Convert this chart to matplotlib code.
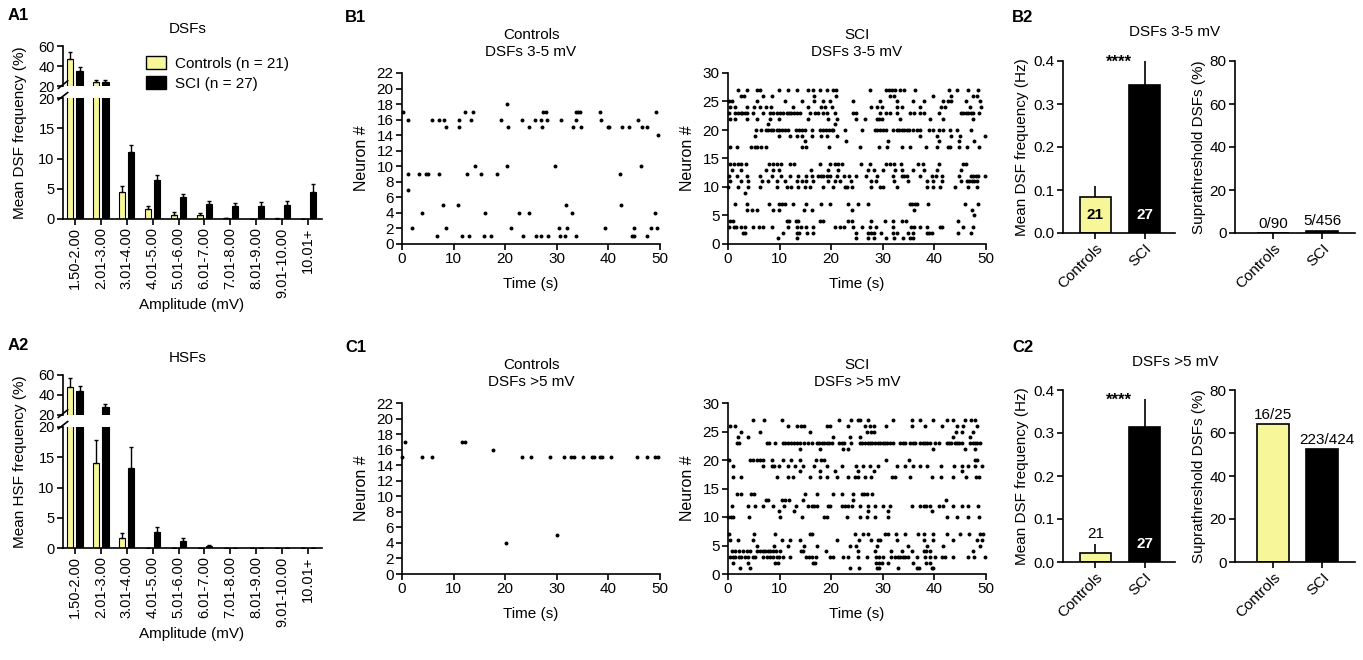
import matplotlib
matplotlib.use('Agg')
import matplotlib.pyplot as plt
from matplotlib.patches import Patch
import numpy as np

plt.rcParams['font.family'] = ['Liberation Sans', 'DejaVu Sans']
plt.rcParams['font.size'] = 10.5
plt.rcParams['axes.linewidth'] = 1.2
plt.rcParams['xtick.major.width'] = 1.2
plt.rcParams['ytick.major.width'] = 1.2
plt.rcParams['xtick.major.size'] = 4
plt.rcParams['ytick.major.size'] = 4

YELLOW = '#f7f799'

# ---------------- data ----------------
amp_bins = ['1.50-2.00', '2.01-3.00', '3.01-4.00', '4.01-5.00', '5.01-6.00',
            '6.01-7.00', '7.01-8.00', '8.01-9.00', '9.01-10.00', '10.01+']

dsf_ctrl = [47.5, 24.5, 4.5, 1.7, 0.7, 0.6, 0.1, 0.0, 0.05, 0.0]
dsf_ctrl_err = [7.0, 2.0, 0.9, 0.4, 0.4, 0.4, 0.1, 0.0, 0.05, 0.0]
dsf_sci = [35.0, 24.0, 11.1, 6.5, 3.6, 2.5, 2.1, 2.2, 2.3, 4.5]
dsf_sci_err = [4.0, 2.0, 1.1, 0.8, 0.6, 0.4, 0.6, 0.6, 0.6, 1.3]

hsf_ctrl = [48.0, 14.0, 1.6, 0.0, 0.0, 0.05, 0.0, 0.0, 0.0, 0.0]
hsf_ctrl_err = [9.0, 3.8, 0.8, 0.0, 0.0, 0.0, 0.0, 0.0, 0.0, 0.0]
hsf_sci = [44.5, 28.5, 13.3, 2.6, 1.2, 0.3, 0.05, 0.05, 0.0, 0.0]
hsf_sci_err = [4.5, 2.5, 3.4, 0.8, 0.4, 0.2, 0.0, 0.0, 0.0, 0.0]

groups = ['Controls', 'SCI']
n_cells = [21, 27]

freq_35 = [0.084, 0.344]
freq_35_err = [0.025, 0.056]
supra_35 = [0.0, 1.1]
supra_35_lbl = ['0/90', '5/456']

freq_5 = [0.022, 0.313]
freq_5_err = [0.020, 0.066]
supra_5 = [64.0, 52.6]
supra_5_lbl = ['16/25', '223/424']

# raster events: neuron number -> event times (s)
ctrl_35 = {
    18: [20.4],
    17: [0.1, 12.2, 13.7, 27.3, 27.9, 33.8, 34.1, 34.4, 38.4, 49.3],
    16: [1.1, 5.8, 7.2, 8.1, 11.0, 13.3, 19.2, 23.3, 25.8, 27.0, 28.1, 30.8,
         33.8, 38.6, 45.8],
    15: [8.6, 11.0, 20.6, 24.6, 27.2, 33.1, 34.7, 39.9, 40.2, 42.6, 43.9,
         46.6, 47.4],
    14: [49.6],
    10: [14.2, 20.4, 29.7, 46.3],
    9: [1.1, 3.3, 4.6, 5.1, 7.2, 12.6, 15.3, 18.5, 42.3],
    7: [1.2],
    5: [8.0, 10.8, 31.7, 42.4],
    4: [3.9, 16.1, 22.7, 24.6, 32.9, 49.1],
    2: [2.0, 8.6, 21.1, 30.4, 32.0, 39.4, 45.0, 48.2, 49.4],
    1: [6.7, 11.6, 12.9, 15.8, 17.2, 23.4, 26.0, 27.0, 28.3, 30.7, 31.5,
        33.7, 44.6, 44.9, 47.4],
}

sci_35 = {
    27: [2.0, 3.7, 5.6, 6.2, 9.8, 11.7, 13.3, 15.6, 16.4, 17.8, 19.1, 20.4,
         20.9, 27.5, 30.7, 31.2, 31.7, 32.4, 33.3, 34.2, 36.2, 42.9, 44.4,
         46.6, 48.5],
    26: [2.5, 3.1, 6.8, 8.6, 16.7, 20.9, 31.4, 32.2, 39.8, 43.2, 47.4, 48.2],
    25: [0.1, 0.8, 5.7, 11.0, 14.3, 16.7, 18.5, 19.8, 24.2, 29.5, 32.7, 35.9,
         38.0, 41.6, 42.7, 43.3, 46.1, 48.8],
    24: [0.4, 1.4, 3.6, 5.0, 6.2, 7.3, 8.3, 12.5, 15.6, 18.0, 18.8, 20.1,
         27.8, 28.8, 29.9, 32.7, 33.7, 37.2, 41.3, 42.1, 46.9, 49.0],
    23: [0.1, 1.4, 2.0, 2.5, 2.8, 3.3, 3.7, 4.9, 6.8, 8.1, 8.8, 9.4, 10.1,
         10.7, 11.4, 11.8, 12.3, 12.8, 13.3, 14.0, 15.9, 16.9, 17.5, 18.5,
         19.1, 20.7, 24.3, 24.9, 29.5, 30.7, 31.4, 32.7, 35.3, 36.1, 37.2,
         37.9, 40.8, 45.1, 45.6, 46.1, 46.6, 47.0, 47.5, 48.7],
    22: [0.4, 1.4, 3.6, 5.6, 8.1, 9.8, 15.6, 19.3, 21.1, 24.9, 26.6, 28.8,
         29.3, 29.8, 33.3, 39.1, 41.7, 47.5],
    21: [7.7, 20.7],
    20: [5.4, 6.3, 7.4, 7.8, 8.3, 8.8, 9.4, 9.9, 10.4, 11.0, 11.6, 13.2,
         13.8, 14.3, 14.9, 16.2, 17.8, 18.5, 19.0, 19.6, 20.1, 20.4, 22.7,
         25.9, 28.5, 28.9, 29.5, 30.1, 30.7, 32.0, 32.7, 33.2, 33.7, 34.1,
         34.6, 35.1, 35.8, 36.6, 37.2, 39.0, 39.8, 40.8, 41.7, 43.0, 44.4,
         47.0],
    19: [5.2, 9.9, 12.0, 13.3, 14.4, 16.2, 18.0, 19.1, 21.1, 37.2, 40.6,
         43.3, 45.0, 49.8],
    18: [14.9, 22.9, 31.1, 40.8, 44.8, 47.7],
    17: [0.3, 1.7, 4.5, 5.2, 5.7, 6.4, 7.4, 14.3, 15.2, 19.6, 25.6, 29.3,
         30.9, 33.7, 35.3, 38.3, 40.6, 42.6, 43.0, 44.8, 46.4, 48.6],
    14: [0.4, 1.2, 2.0, 2.6, 3.5, 8.0, 8.7, 9.4, 10.3, 12.0, 12.7, 17.8,
         19.8, 20.7, 21.4, 22.0, 25.8, 27.5, 30.7, 31.4, 32.2, 33.5, 36.9,
         37.7, 40.8, 45.5, 46.1],
    13: [0.7, 2.5, 7.4, 8.8, 9.9, 16.1, 19.3, 21.4, 27.2, 28.2, 30.1, 32.4,
         33.7, 35.9, 38.0, 40.6, 45.1],
    12: [0.1, 1.7, 3.6, 6.2, 8.5, 10.3, 12.0, 13.6, 15.2, 16.3, 17.5, 18.0,
         18.5, 19.1, 19.8, 21.1, 22.4, 23.5, 24.9, 26.7, 28.9, 32.0, 33.7,
         34.2, 34.6, 37.2, 39.5, 40.4, 41.4, 44.8, 47.0, 47.5, 48.1, 48.5,
         49.8],
    11: [0.3, 2.5, 3.9, 6.5, 7.8, 9.4, 11.0, 13.3, 14.3, 15.2, 16.5, 19.4,
         20.7, 21.7, 23.8, 27.8, 28.7, 32.2, 34.8, 38.5, 39.7, 41.4, 45.1,
         46.3, 46.8, 47.2, 47.7, 48.2],
    10: [0.0, 2.0, 3.9, 6.2, 9.4, 11.4, 12.3, 13.5, 14.9, 15.9, 18.5, 20.4,
         22.7, 23.0, 24.0, 27.8, 29.5, 30.1, 32.7, 38.5, 39.8, 41.1, 44.0,
         46.6, 48.2],
    9: [3.3],
    7: [1.4, 3.6, 7.9, 9.9, 10.4, 11.0, 12.5, 15.1, 18.0, 19.8, 23.3, 25.1,
        27.1, 35.3, 35.7, 36.2, 36.7, 38.8, 45.9, 48.5],
    6: [3.7, 4.6, 5.7, 8.8, 9.9, 14.8, 16.2, 24.0, 36.1, 47.2],
    5: [47.7],
    4: [0.4, 1.0, 11.4, 11.9, 13.2, 13.6, 17.8, 18.5, 23.3, 24.0, 27.8, 30.4,
        32.0, 33.7, 34.5, 44.6],
    3: [0.1, 1.2, 1.6, 2.6, 3.3, 4.8, 6.1, 6.7, 8.5, 11.6, 13.4, 14.1, 15.2,
        16.5, 20.7, 21.7, 22.5, 24.3, 26.0, 27.6, 28.7, 31.9, 35.4, 36.0,
        37.2, 38.5, 41.0, 41.5, 45.6, 47.5],
    2: [3.0, 3.3, 10.7, 13.3, 13.8, 15.4, 16.5, 24.9, 27.2, 27.7, 28.2, 29.6,
        32.0, 32.7, 34.8, 35.9, 38.5, 39.0, 39.5, 44.6, 47.0],
    1: [9.6, 13.4, 24.8, 27.2, 28.2, 30.6, 32.2, 34.0, 35.3, 35.9],
}

ctrl_5 = {
    17: [0.5, 11.6, 12.3],
    16: [17.7],
    15: [0.0, 3.9, 5.8, 23.3, 25.0, 28.6, 31.4, 32.8, 33.4, 35.0, 36.8, 37.3,
         38.3, 38.7, 40.5, 45.6, 47.5, 49.0, 49.6],
    5: [30.0],
    4: [20.2],
}

sci_5 = {
    27: [4.9, 7.0, 10.5, 21.5, 23.8, 25.1, 25.6, 27.2, 32.0, 35.6, 37.2, 39.8,
         42.4, 43.7, 45.9, 47.0, 47.9],
    26: [0.3, 1.4, 11.7, 13.4, 14.1, 14.7, 19.1, 19.8, 23.3, 26.6, 27.6, 28.3,
         30.6, 35.7, 38.2, 41.4, 44.3, 45.6, 48.2],
    25: [2.6, 6.2, 15.8, 26.9, 27.8, 28.3, 44.1, 45.3, 47.4],
    24: [2.0, 3.9, 20.4, 23.6, 25.6, 43.7, 46.9],
    23: [1.7, 2.2, 7.5, 8.0, 9.1, 10.6, 11.0, 11.6, 12.2, 12.7, 13.3, 14.0,
         14.7, 15.6, 16.2, 17.2, 17.6, 18.2, 18.6, 19.1, 19.6, 20.1, 21.5,
         22.0, 22.5, 23.8, 25.6, 26.0, 26.6, 27.1, 27.5, 28.0, 28.5, 29.0,
         29.5, 30.0, 30.4, 30.9, 31.4, 31.9, 33.3, 33.9, 34.3, 35.3, 35.8,
         36.2, 37.2, 37.7, 38.2, 38.6, 39.1, 40.1, 40.8, 42.4, 42.9, 43.3,
         43.9, 44.3, 44.8, 45.3, 46.9, 47.4, 47.9, 48.3, 48.8],
    22: [14.0, 17.8, 22.2, 23.3, 39.7, 45.9, 47.9],
    20: [0.1, 4.3, 4.8, 5.7, 6.2, 6.7, 8.5, 10.7, 12.3, 14.0, 17.0, 18.0,
         18.7, 30.7, 35.1, 47.9, 48.3],
    19: [1.0, 6.8, 8.5, 8.9, 9.9, 11.7, 13.0, 14.6, 16.7, 19.1, 22.0, 24.9,
         26.2, 27.6, 29.1, 32.7, 34.3, 35.8, 37.2, 38.6, 41.3, 43.8, 45.3,
         46.6, 47.9, 49.2],
    18: [14.0, 17.8, 20.7, 25.1, 28.3, 45.4],
    17: [1.0, 2.5, 9.4, 11.6, 12.5, 15.9, 17.8, 19.1, 21.1, 23.2, 24.6, 25.1,
         26.6, 27.8, 31.7, 32.4, 35.3, 39.6, 41.3, 43.7, 46.1, 48.1, 48.7],
    14: [1.7, 2.5, 4.5, 5.1, 14.9, 17.2, 20.4, 22.0, 24.3, 25.9, 26.4, 26.9,
         28.0],
    13: [7.4, 7.8, 10.4, 11.0, 11.8, 14.6, 24.3, 42.2],
    12: [0.7, 3.9, 5.2, 6.8, 8.8, 10.9, 13.2, 15.6, 16.2, 16.7, 17.2, 19.3,
         19.8, 22.0, 22.7, 23.3, 24.0, 25.6, 27.2, 28.5, 30.1, 31.3, 35.6,
         37.2, 37.9, 38.4, 39.1, 40.8, 41.7, 43.7, 45.3, 46.6, 48.5],
    11: [9.9, 12.7, 27.2, 31.1, 39.6],
    10: [0.0, 0.5, 0.9, 4.1, 10.1, 14.3, 18.6, 19.1, 23.0, 25.5, 26.9, 28.5,
         31.1, 42.4, 44.4, 46.6, 48.7],
    7: [0.1, 5.1, 9.1, 15.8, 16.3, 24.6, 26.1, 27.2, 30.4, 31.1, 32.5, 34.3,
        36.9, 38.0, 39.8, 42.4, 45.0, 46.8, 48.8, 49.4],
    6: [0.3, 2.0, 4.9, 10.4, 12.0, 14.0, 21.1, 25.3, 27.8, 29.1, 29.5, 32.7,
        38.0, 39.7, 43.7, 48.3, 49.2],
    5: [5.7, 9.0, 11.7, 14.7, 17.3, 23.6, 24.9, 28.8, 34.9, 38.5, 41.6, 48.8],
    4: [0.7, 1.4, 2.1, 3.0, 3.6, 4.3, 5.7, 6.2, 6.7, 7.2, 7.7, 8.1, 8.7, 9.3,
        10.1, 14.1, 14.6, 18.9, 25.1, 28.5, 31.5, 33.7, 35.6, 37.9, 38.4,
        39.1, 47.5],
    3: [0.4, 0.9, 1.4, 2.1, 2.6, 3.3, 3.9, 4.8, 5.2, 6.8, 7.5, 8.1, 8.8, 9.4,
        9.9, 10.7, 12.1, 15.2, 15.7, 16.2, 17.1, 19.8, 20.4, 22.2, 23.3, 25.1,
        26.9, 28.7, 29.3, 30.1, 31.6, 32.4, 32.9, 33.3, 33.9, 34.3, 34.8,
        36.6, 38.2, 39.1, 40.1, 41.4, 42.1, 43.7, 46.6, 47.7, 49.8],
    2: [1.0, 3.9, 9.1, 9.6, 16.5, 16.9, 28.7, 29.3, 29.8, 31.1, 35.8, 38.3,
        39.1],
    1: [2.3, 4.3, 23.6, 25.3, 28.8, 29.3, 33.0, 36.6, 37.0, 39.5, 39.8],
}

# ---------------- figure ----------------
W, H = 1363, 660
fig = plt.figure(figsize=(W / 100, H / 100), dpi=100)


def box(x0, y0, x1, y1):
    return [x0 / W, 1 - y1 / H, (x1 - x0) / W, (y1 - y0) / H]


def ftext(x, y, s, **kw):
    kw.setdefault('ha', 'center')
    kw.setdefault('va', 'center')
    fig.text(x / W, 1 - y / H, s, **kw)


def clean(ax):
    ax.spines['top'].set_visible(False)
    ax.spines['right'].set_visible(False)
    ax.tick_params(direction='out', labelsize=10.5, pad=2)


def amp_hist(top, ctrl, ctrl_err, sci, sci_err, ylabel, title, tag):
    x = np.arange(len(amp_bins))
    ax_hi = fig.add_axes(box(63, top, 322, top + 40))
    ax_lo = fig.add_axes(box(63, top + 52, 322, top + 173))
    for ax in (ax_hi, ax_lo):
        ax.bar(x - 0.18, ctrl, width=0.24, color=YELLOW, edgecolor='black',
               linewidth=0.8, yerr=[np.zeros(len(x)), ctrl_err],
               error_kw=dict(lw=1, capsize=1.5, capthick=1, ecolor='black'))
        ax.bar(x + 0.18, sci, width=0.24, color='black', edgecolor='black',
               linewidth=0.8, yerr=[np.zeros(len(x)), sci_err],
               error_kw=dict(lw=1, capsize=1.5, capthick=1, ecolor='black'))
        ax.set_xlim(-0.46, 9.54)
        clean(ax)
    ax_hi.set_ylim(20, 60)
    ax_hi.set_yticks([20, 40, 60])
    ax_hi.spines['bottom'].set_visible(False)
    ax_hi.set_xticks([])
    ax_lo.set_ylim(0, 20)
    ax_lo.set_yticks([0, 5, 10, 15, 20])
    ax_lo.set_xticks(x)
    ax_lo.set_xticklabels(amp_bins, rotation=90)
    # break marks on the y axis
    kw = dict(color='black', lw=1.2, clip_on=False)
    ax_lo.plot([-0.018, 0.018], [0.985, 1.045], transform=ax_lo.transAxes, **kw)
    ax_hi.plot([-0.018, 0.018], [-0.06, 0.13], transform=ax_hi.transAxes, **kw)
    ftext(20, top + 87, ylabel, rotation=90, fontsize=11)
    ftext(192, top + 259, 'Amplitude (mV)', fontsize=11)
    ftext(188, top - 17, title, fontsize=11)
    ftext(8, top - 30, tag, ha='left', fontsize=12, fontweight='bold')
    return ax_hi


def raster(x0, top, rows, ymax, yticks, group, title):
    ax = fig.add_axes(box(x0, top, x0 + 258, top + 171))
    for n, ts in rows.items():
        ax.scatter(ts, [n] * len(ts), s=8, marker='o', color='black',
                   linewidths=0, clip_on=False)
    ax.set_xlim(0, 50)
    ax.set_ylim(0, ymax)
    ax.set_xticks(range(0, 51, 10))
    ax.set_yticks(yticks)
    clean(ax)
    ax.tick_params(labelsize=11)
    ftext(x0 + 129, top - 38, group, fontsize=11)
    ftext(x0 + 129, top - 21, title, fontsize=11)
    ftext(x0 + 129, top + 211, 'Time (s)', fontsize=11)
    ftext(x0 - 40, top + 85, 'Neuron #', rotation=90, fontsize=11.5)
    return ax


def freq_bars(top, vals, errs, inside_ctrl):
    ax = fig.add_axes(box(1063, top, 1175, top + 172))
    xs = np.arange(2)
    ax.bar(xs, vals, width=0.63, color=[YELLOW, 'black'], edgecolor='black',
           linewidth=1.2, yerr=[[0, 0], errs],
           error_kw=dict(lw=1.2, capsize=0, ecolor='black'))
    ax.set_xlim(-0.66, 1.62)
    ax.set_ylim(0, 0.4)
    ax.set_yticks([0.0, 0.1, 0.2, 0.3, 0.4])
    ax.set_yticklabels(['0.0', '0.1', '0.2', '0.3', '0.4'])
    ax.set_xticks(xs)
    ax.set_xticklabels(groups, rotation=45, ha='right', rotation_mode='anchor')
    clean(ax)
    ax.tick_params(labelsize=11)
    ax.set_ylabel('Mean DSF frequency (Hz)', fontsize=11, labelpad=3)
    ax.text(0.48, vals[1] + errs[1] - 0.004, '****', ha='center', va='center',
            fontsize=12, fontweight='bold', clip_on=False)
    if inside_ctrl:
        ax.text(0, 0.042, str(n_cells[0]), ha='center', va='center',
                fontsize=11, fontweight='bold')
    else:
        ax.text(0, vals[0] + errs[0] + 0.008, str(n_cells[0]), ha='center',
                va='bottom', fontsize=11)
    ax.text(1, 0.042, str(n_cells[1]), ha='center', va='center',
            fontsize=11, fontweight='bold', color='white')
    return ax


def supra_bars(top, vals, lbls):
    ax = fig.add_axes(box(1235, top, 1355, top + 172))
    xs = np.arange(2)
    ax.bar(xs, vals, width=0.65, color=[YELLOW, 'black'], edgecolor='black',
           linewidth=1.2)
    ax.set_xlim(-0.78, 1.67)
    ax.set_ylim(0, 80)
    ax.set_yticks([0, 20, 40, 60, 80])
    ax.set_xticks(xs)
    ax.set_xticklabels(groups, rotation=45, ha='right', rotation_mode='anchor')
    clean(ax)
    ax.tick_params(labelsize=11)
    ax.set_ylabel('Suprathreshold DSFs (%)', fontsize=11, labelpad=3)
    for xi, v, s in zip(xs, vals, lbls):
        ax.text(xi + (0.1 if xi == 1 and v > 10 else 0), v + 1, s,
                ha='center', va='bottom', fontsize=11)
    return ax


# A1 / A2
amp_hist(46, dsf_ctrl, dsf_ctrl_err, dsf_sci, dsf_sci_err,
         'Mean DSF frequency (%)', 'DSFs', 'A1')
amp_hist(375, hsf_ctrl, hsf_ctrl_err, hsf_sci, hsf_sci_err,
         'Mean HSF frequency (%)', 'HSFs', 'A2')
fig.legend([Patch(facecolor=YELLOW, edgecolor='black', lw=1),
            Patch(facecolor='black', edgecolor='black')],
           ['Controls (n = 21)', 'SCI (n = 27)'], loc='upper left',
           bbox_to_anchor=(140 / W, 1 - 50 / H), frameon=False, fontsize=11,
           handlelength=1.3, handleheight=0.9, labelspacing=0.35,
           handletextpad=0.6, borderaxespad=0)

# B1 / C1
raster(402, 73, ctrl_35, 22, range(0, 23, 2), 'Controls', 'DSFs 3-5 mV')
raster(728, 73, sci_35, 30, range(0, 31, 5), 'SCI', 'DSFs 3-5 mV')
raster(402, 403, ctrl_5, 22, range(0, 23, 2), 'Controls', 'DSFs >5 mV')
raster(728, 403, sci_5, 30, range(0, 31, 5), 'SCI', 'DSFs >5 mV')
ftext(345, 18, 'B1', ha='left', fontsize=12, fontweight='bold')
ftext(345, 347, 'C1', ha='left', fontsize=12, fontweight='bold')

# B2 / C2
freq_bars(61, freq_35, freq_35_err, True)
supra_bars(61, supra_35, supra_35_lbl)
freq_bars(390, freq_5, freq_5_err, False)
supra_bars(390, supra_5, supra_5_lbl)
ftext(1012, 18, 'B2', ha='left', fontsize=12, fontweight='bold')
ftext(1012, 347, 'C2', ha='left', fontsize=12, fontweight='bold')
ftext(1175, 32, 'DSFs 3-5 mV', fontsize=11)
ftext(1175, 362, 'DSFs >5 mV', fontsize=11)

fig.savefig('out.png', dpi=100)
